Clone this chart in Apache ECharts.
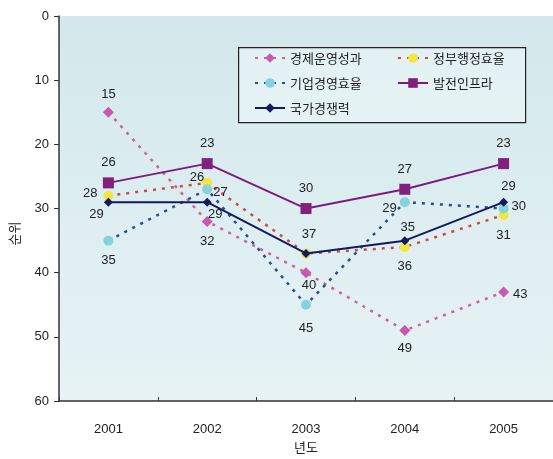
<!DOCTYPE html>
<html><head><meta charset="utf-8">
<script src="https://cdn.jsdelivr.net/npm/echarts@6/dist/echarts.min.js"></script>
<style>html,body{margin:0;padding:0;background:#fff}#c{width:553px;height:459px}</style>
</head><body><div id="c"></div>
<script>
const years = ['2001','2002','2003','2004','2005'];
const seriesNames = ['경제운영성과','정부행정효율','기업경영효율','발전인프라','국가경쟁력'];
const econ = [15, 32, 40, 49, 43];
const gov = [28, 26, 37, 36, 31];
const biz = [35, 27, 45, 29, 30];
const infra = [26, 23, 30, 27, 23];
const nation = [29, 29, 37, 35, 29];
const yTicks = [0, 10, 20, 30, 40, 50, 60];

// label placement per point: [position, distance, dx, dy, show]
const labelCfg = {
  econ:   [['top',6,0,0,1],['bottom',8,0,0,1],['bottom',1,3,0,1],['bottom',6,0,0,1],['right',4,0,2,1]],
  gov:    [['left',6,0,-2,1],['left',4,6,-5,1],['top',5,0,0,0],['bottom',8,0,0,1],['bottom',9,0,0,1]],
  biz:    [['bottom',8,0,0,1],['right',1,0,3,1],['bottom',12,0,0,1],['left',3,0,6,1],['right',3,0,-2,1]],
  infra:  [['top',8,0,0,1],['top',8,0,0,1],['top',8,0,0,1],['top',8,0,0,1],['top',8,0,0,1]],
  nation: [['bottom',3,-12,-2,1],['bottom',2,8,-1,1],['top',8,3,0,1],['top',2,3,0,1],['top',5,5,0,1]]
};

function build(vals, cfg) {
  return vals.map((v, i) => {
    const c = cfg[i];
    return { value: v, label: { show: !!c[4], position: c[0], distance: c[1], offset: [c[2], c[3]] } };
  });
}

const labelBase = { show: true, fontSize: 13, color: '#222', fontFamily: 'Liberation Sans, Arial, sans-serif' };

const chart = echarts.init(document.getElementById('c'));
chart.setOption({
  animation: false,
  backgroundColor: '#fff',
  grid: {
    left: 54, right: -1, top: 16, bottom: 57, show: true, borderWidth: 0,
    backgroundColor: new echarts.graphic.LinearGradient(0, 0, 0, 1, [
      { offset: 0, color: '#d3e8ec' }, { offset: 1, color: '#e7f3f5' }
    ])
  },
  graphic: [{
    type: 'rect', left: 238, top: 47, z: 5,
    shape: { width: 287, height: 75 },
    style: { fill: 'rgba(236,246,248,0.6)', stroke: '#222', lineWidth: 1.2 }
  }],
  legend: {
    left: 254, top: 51, width: 275, z: 10, padding: 0,
    itemWidth: 30, itemHeight: 12, itemGap: 11,
    data: seriesNames,
    textStyle: { fontSize: 13, color: '#222', width: 96, lineHeight: 14, fontFamily: 'Noto Sans CJK KR, sans-serif' }
  },
  xAxis: {
    type: 'category', data: years, boundaryGap: true, position: 'bottom',
    name: '년도', nameLocation: 'middle', nameGap: 38,
    nameTextStyle: { fontSize: 13, color: '#222', fontFamily: 'Noto Sans CJK KR, sans-serif' },
    axisLine: { onZero: false, lineStyle: { color: '#333', width: 1.5 } },
    axisTick: { show: true, inside: true, length: 4, lineStyle: { color: '#333' } },
    axisLabel: { fontSize: 13, color: '#222', margin: 22, fontFamily: 'Liberation Sans, Arial, sans-serif' },
    splitLine: { show: false }
  },
  yAxis: {
    type: 'value', inverse: true, min: yTicks[0], max: yTicks[yTicks.length - 1], interval: 10,
    name: '순위', nameLocation: 'middle', nameGap: 38, nameRotate: 90,
    nameTextStyle: { fontSize: 13, color: '#222', padding: [0, 50, 0, 0], fontFamily: 'Noto Sans CJK KR, sans-serif' },
    axisLine: { show: true, onZero: false, lineStyle: { color: '#333', width: 1.5 } },
    axisTick: { show: true, length: 5, lineStyle: { color: '#333' } },
    axisLabel: { fontSize: 13, color: '#222', margin: 10, fontFamily: 'Liberation Sans, Arial, sans-serif' },
    splitLine: { show: false }
  },
  series: [
    {
      name: seriesNames[0], type: 'line', data: build(econ, labelCfg.econ),
      symbol: 'diamond', symbolSize: 11, color: '#d0609c',
      lineStyle: { color: '#d0609c', width: 2.5, type: [3, 6] },
      itemStyle: { color: '#c65ab0' }, label: labelBase, z: 2
    },
    {
      name: seriesNames[1], type: 'line', data: build(gov, labelCfg.gov),
      symbol: 'circle', symbolSize: 10, color: '#d04848',
      lineStyle: { color: '#d04848', width: 2.5, type: [3, 6] },
      itemStyle: { color: '#f2e640' }, label: labelBase, z: 2
    },
    {
      name: seriesNames[2], type: 'line', data: build(biz, labelCfg.biz),
      symbol: 'circle', symbolSize: 10, color: '#2a4a98',
      lineStyle: { color: '#2a4a98', width: 2.5, type: [3, 6] },
      itemStyle: { color: '#86d2dc' }, label: labelBase, z: 2
    },
    {
      name: seriesNames[3], type: 'line', data: build(infra, labelCfg.infra),
      symbol: 'rect', symbolSize: 11, color: '#7e1a7e',
      lineStyle: { color: '#7e1a7e', width: 2 },
      itemStyle: { color: '#82207e' }, label: labelBase, z: 3
    },
    {
      name: seriesNames[4], type: 'line', data: build(nation, labelCfg.nation),
      symbol: 'diamond', symbolSize: 9, color: '#141a60',
      lineStyle: { color: '#141a60', width: 2 },
      itemStyle: { color: '#141a60' }, label: labelBase, z: 4
    }
  ]
});
</script></body></html>
